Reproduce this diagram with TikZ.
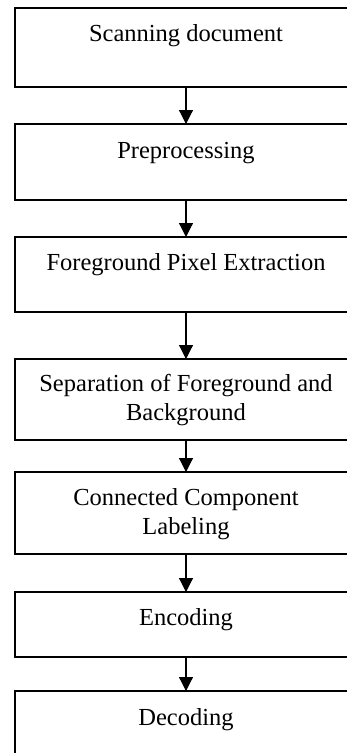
\documentclass[tikz,border=0pt]{standalone}
\usepackage{fontspec}
\setmainfont{Liberation Serif}
\usetikzlibrary{arrows.meta,calc}
\begin{document}
\begin{tikzpicture}[x=1pt,y=-1pt,
  stepbox/.style={draw,line width=1.4pt,minimum width=342pt,inner sep=0pt,outer sep=0pt,anchor=north},
  lbl/.style={anchor=base,align=center,font=\fontsize{24.5}{29}\selectfont,inner sep=0pt},
  flow/.style={line width=1.2pt,-{Triangle[width=14pt,length=14pt]}}]
\useasboundingbox (0,0) rectangle (347,753);
\clip (0,0) rectangle (347,753);
\node[stepbox,minimum height=79pt] (b1) at (186,8) {};
\node[stepbox,minimum height=76pt] (b2) at (186,124) {};
\node[stepbox,minimum height=75pt] (b3) at (186,237) {};
\node[stepbox,minimum height=81pt] (b4) at (186,359) {};
\node[stepbox,minimum height=82pt] (b5) at (186,472) {};
\node[stepbox,minimum height=65pt] (b6) at (186,592) {};
\node[stepbox,minimum height=80pt] (b7) at (186,691) {};
% anchor=base of a two-line node is the baseline of its last line
\node[lbl] (t1) at ($(b1.north)+(0,33)$) {Scanning document};
\node[lbl] (t2) at ($(b2.north)+(0,34)$) {Preprocessing};
\node[lbl] (t3) at ($(b3.north)+(0,33)$) {Foreground Pixel Extraction};
\node[lbl] (t4) at ($(b4.north)+(0,61)$) {Separation of Foreground and\\Background};
\node[lbl] (t5) at ($(b5.north)+(0,62)$) {Connected Component\\Labeling};
\node[lbl] (t6) at ($(b6.north)+(0,33)$) {Encoding};
\node[lbl] (t7) at ($(b7.north)+(0,34)$) {Decoding};
\draw[flow] (b1.south) -- (b2.north);
\draw[flow] (b2.south) -- (b3.north);
\draw[flow] (b3.south) -- (b4.north);
\draw[flow] (b4.south) -- (b5.north);
\draw[flow] (b5.south) -- (b6.north);
\draw[flow] (b6.south) -- (b7.north);
\end{tikzpicture}
\end{document}
